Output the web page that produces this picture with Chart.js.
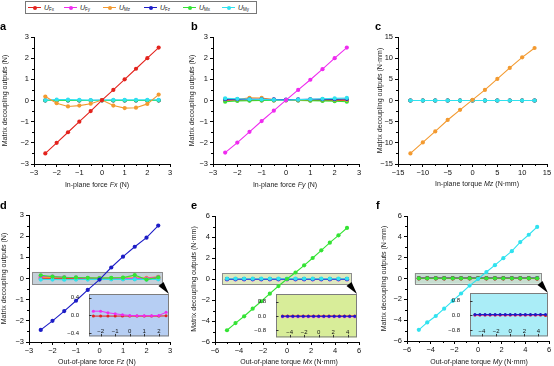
<!DOCTYPE html>
<html>
<head>
<meta charset="utf-8">
<script src="https://cdn.jsdelivr.net/npm/chart.js@4.4.1/dist/chart.umd.min.js"></script>
<style>
    html, body { margin: 0; padding: 0; background: #fff; }
    #wrap { position: relative; width: 554px; height: 366px; overflow: hidden; font-family: "Liberation Sans", Arial, sans-serif; }
    #wrap canvas { position: absolute; }
    #legend { position: absolute; left: 25px; top: 1px; width: 230px; height: 11px; border: 1px solid #777; box-sizing: content-box; }
    .lg-line { position: absolute; top: 5px; width: 13px; height: 1px; }
    .lg-dot { position: absolute; top: 3.5px; width: 4px; height: 4px; border-radius: 50%; }
    .lg-txt { position: absolute; top: 1px; font-size: 7px; line-height: 9px; color: #222; white-space: nowrap; }
    .lg-txt i { font-style: italic; }
    .lg-txt sub { font-size: 4.5px; vertical-align: -1px; }
</style>
</head>
<body>
<div id="wrap"><div id="legend"></div></div>
<script>
// x positions of the applied loads
const X_FORCE = [-2.5, -2, -1.5, -1, -0.5, 0, 0.5, 1, 1.5, 2, 2.5];
const X_TORQUE_Z = [-12.5, -10, -7.5, -5, -2.5, 0, 2.5, 5, 7.5, 10, 12.5];
const X_TORQUE = [-5, -4.29, -3.57, -2.86, -2.14, -1.43, -0.71, 0, 0.71, 1.43, 2.14, 2.86, 3.57, 4.29, 5];

const SERIES_NAMES = ['Fx', 'Fy', 'Mz', 'Fz', 'Mx', 'My'];
const SERIES_COLORS = {Fx: '#e3231d', Fy: '#ef2cef', Mz: '#f39a30', Fz: '#1c1cc6', Mx: '#34e334', My: '#30e2ef'};

// a: in-plane force Fx
const A_FX = [-2.5, -2.0, -1.5, -1.0, -0.5, 0.02, 0.5, 1.0, 1.5, 2.0, 2.5];
const A_FY = [0.01, 0.01, 0, 0, 0, 0, 0, 0, 0, 0, 0.01];
const A_MZ = [0.19, -0.13, -0.28, -0.24, -0.15, 0.02, -0.24, -0.36, -0.34, -0.16, 0.28];
const A_FZ = [0, 0, 0, 0, 0, 0.01, 0, 0, 0, 0, 0];
const A_MX = [0, 0, 0, 0, 0, 0, 0, 0, 0, 0, 0];
const A_MY = [0.02, 0.04, 0.04, 0.03, 0.02, 0.02, 0.03, 0.03, 0.03, 0.03, 0.03];

// b: in-plane force Fy
const B_FX = [0.01, 0.01, 0.01, 0, 0, 0, 0, 0, 0, 0, 0];
const B_FY = [-2.46, -1.99, -1.48, -0.97, -0.48, 0.02, 0.5, 0.98, 1.48, 2.0, 2.5];
const B_MZ = [0.05, 0.05, 0.13, 0.12, 0.04, 0.02, 0.03, 0.05, 0.05, 0.04, 0.03];
const B_FZ = [0.06, 0.06, 0.06, 0.06, 0.05, 0.04, 0.05, 0.06, 0.06, 0.06, 0.07];
const B_MX = [-0.06, -0.02, -0.01, 0, 0, 0.02, 0, -0.01, -0.02, -0.03, -0.06];
const B_MY = [0.1, 0.08, 0.06, 0.05, 0.03, 0.02, 0.04, 0.06, 0.08, 0.1, 0.12];

// c: in-plane torque Mz
const C_FX = [0, 0, 0, 0, 0, 0, 0, 0, 0, 0, 0];
const C_FY = [0, 0, 0, 0, 0, 0, 0, 0, 0, 0, 0];
const C_MZ = [-12.5, -9.9, -7.3, -4.6, -2.2, 0.15, 2.5, 5.1, 7.7, 10.2, 12.4];
const C_FZ = [0, 0, 0, 0, 0, 0, 0, 0, 0, 0, 0];
const C_MX = [0, 0, 0, 0, 0, 0, 0, 0, 0, 0, 0];
const C_MY = [0, 0, 0, 0, 0, 0, 0, 0, 0, 0, 0];

// d: out-of-plane force Fz
const D_FX = [-0.015, -0.015, -0.015, -0.015, -0.015, -0.015, -0.015, -0.015, -0.015, -0.015, -0.01];
const D_FY = [0.095, 0.095, 0.06, 0.037, 0.015, 0, -0.005, -0.005, -0.005, 0, 0.07];
const D_MZ = [0.05, 0.04, 0.03, 0.02, 0.02, 0.02, 0.02, 0.03, 0.03, 0.03, 0.08];
const D_FZ = [-2.43, -2.0, -1.54, -1.05, -0.54, -0.05, 0.52, 1.03, 1.5, 1.93, 2.5];
const D_MX = [0.15, 0.09, 0.06, 0.05, 0.03, 0.02, 0.03, 0.04, 0.16, -0.05, 0.06];
const D_MY = [-0.05, -0.05, -0.06, -0.05, -0.05, -0.04, -0.04, -0.04, -0.04, -0.05, -0.04];

// e: out-of-plane torque Mx
const E_FX = [0, 0, 0, 0, 0, 0, 0, 0, 0, 0, 0, 0, 0, 0, 0];
const E_FY = [-0.04, -0.04, -0.04, -0.04, -0.04, -0.04, -0.04, -0.04, -0.04, -0.04, -0.04, -0.04, -0.04, -0.04, -0.04];
const E_MZ = [0, 0, 0, 0, 0, 0, 0, 0, 0, 0, 0, 0, 0, 0, 0];
const E_FZ = [-0.02, -0.02, -0.02, -0.02, -0.02, -0.02, -0.02, -0.02, -0.02, -0.02, -0.02, -0.02, -0.02, -0.02, -0.02];
const E_MX = [-4.88, -4.2, -3.55, -2.83, -2.12, -1.4, -0.67, 0.0, 0.62, 1.3, 2.0, 2.73, 3.46, 4.16, 4.86];
const E_MY = [0.03, 0.03, 0.03, 0.03, 0.03, 0.03, 0.03, 0.03, 0.03, 0.03, 0.03, 0.03, 0.03, 0.03, 0.03];

// f: out-of-plane torque My
const F_FX = [0.02, 0.02, 0.02, 0.02, 0.02, 0.02, 0.02, 0.02, 0.02, 0.02, 0.02, 0.02, 0.02, 0.02, -0.01];
const F_FY = [0.01, 0.01, 0.01, 0.01, 0.01, 0.01, 0.01, 0.01, 0.01, 0.01, 0.01, 0.01, 0.01, 0.01, 0.01];
const F_MZ = [0, 0, 0, 0, 0, 0, 0, 0, 0, 0, 0, 0, 0, 0, 0];
const F_FZ = [0.04, 0.04, 0.04, 0.04, 0.04, 0.04, 0.04, 0.04, 0.04, 0.04, 0.04, 0.04, 0.04, 0.04, 0.04];
const F_MX = [0.02, 0.02, 0.02, 0.02, 0.02, 0.02, 0.02, 0.02, 0.02, 0.02, 0.02, 0.02, 0.02, 0.02, 0.02];
const F_MY = [-4.93, -4.22, -3.6, -2.9, -2.15, -1.44, -0.68, -0.05, 0.62, 1.28, 1.95, 2.62, 3.5, 4.2, 4.95];

const FONT = '"Liberation Sans", Arial, sans-serif';
const Y_TITLE_N = [['Matrix decoupling outputs (N)', 'n']];
const Y_TITLE_NMM = [['Matrix decoupling outputs (N\u00b7mm)', 'n']];

// series keys are listed top-most first
const panels = [
    {letter: 'a', box: [0, 16, 182, 176], plot: [34, 37, 170, 164], x: X_FORCE, xr: [-3, 3, 1], yr: [-3, 3, 1],
        series: {Fx: A_FX, Mz: A_MZ, My: A_MY, Mx: A_MX, Fz: A_FZ, Fy: A_FY},
        letterPos: [0, 30], yTitleX: 5, yTitle: Y_TITLE_N,
        xTitlePos: [97, 185], xTitle: [['In-plane force ', 'n'], ['Fx', 'i'], [' (N)', 'n']]},
    {letter: 'b', box: [180, 16, 184, 176], plot: [213, 37, 359, 164], x: X_FORCE, xr: [-3, 3, 1], yr: [-3, 3, 1],
        series: {Fy: B_FY, My: B_MY, Fz: B_FZ, Mz: B_MZ, Mx: B_MX, Fx: B_FX},
        letterPos: [191, 30], yTitleX: 192.5, yTitle: Y_TITLE_N,
        xTitlePos: [285, 185], xTitle: [['In-plane force ', 'n'], ['Fy', 'i'], [' (N)', 'n']]},
    {letter: 'c', box: [364, 16, 190, 176], plot: [398, 37, 547, 164], x: X_TORQUE_Z, xr: [-15, 15, 5], yr: [-15, 15, 5],
        series: {Mz: C_MZ, My: C_MY, Mx: C_MX, Fz: C_FZ, Fy: C_FY, Fx: C_FX},
        letterPos: [375, 30], yTitleX: 380, yTitle: Y_TITLE_NMM,
        xTitlePos: [477, 184], xTitle: [['In-plane torque ', 'n'], ['Mz', 'i'], [' (N\u00b7mm)', 'n']]},
    {letter: 'd', box: [0, 190, 182, 176], plot: [29, 215, 170, 342], x: X_FORCE, xr: [-3, 3, 1], yr: [-3, 3, 1],
        series: {Fz: D_FZ, Mx: D_MX, My: D_MY, Fy: D_FY, Fx: D_FX, Mz: D_MZ},
        zoomBox: {x: [-2.87, 2.66], y: [-0.27, 0.31], fill: 'rgba(178,192,204,0.75)'},
        letterPos: [0, 209], yTitleX: 4.5, yTitle: Y_TITLE_N,
        xTitlePos: [97, 362], xTitle: [['Out-of-plane force ', 'n'], ['Fz', 'i'], [' (N)', 'n']],
        inset: {box: [63, 280, 111, 62], plot: [89, 294, 169, 337], xr: [-2.8, 2.7, 1], yr: [-0.47, 0.48, 0.4],
            bg: '#b6cef3', series: {Fy: D_FY, Fx: D_FX}}},
    {letter: 'e', box: [180, 190, 184, 176], plot: [215, 216, 359, 342], x: X_TORQUE, xr: [-6, 6, 2], yr: [-6, 6, 2],
        series: {Mx: E_MX, My: E_MY, Fz: E_FZ, Fy: E_FY, Fx: E_FX, Mz: E_MZ},
        zoomBox: {x: [-5.42, 5.33], y: [-0.48, 0.57], fill: 'rgba(214,228,178,0.8)'},
        letterPos: [191, 209], yTitleX: 194.5, yTitle: Y_TITLE_NMM,
        xTitlePos: [289, 362], xTitle: [['Out-of-plane torque ', 'n'], ['Mx', 'i'], [' (N\u00b7mm)', 'n']],
        inset: {box: [250, 280, 112, 63], plot: [276, 294, 357, 338], xr: [-5.9, 5.3, 2], yr: [-1.2, 1.23, 0.8],
            bg: '#d8ed99', series: {Fz: E_FZ, Fy: E_FY, Fx: E_FX}}},
    {letter: 'f', box: [364, 190, 190, 176], plot: [407, 216, 549, 341], x: X_TORQUE, xr: [-6, 6, 2], yr: [-6, 6, 2],
        series: {My: F_MY, Mx: F_MX, Fx: F_FX, Fz: F_FZ, Fy: F_FY, Mz: F_MZ},
        zoomBox: {x: [-5.35, 5.3], y: [-0.5, 0.51], fill: 'rgba(184,214,196,0.8)'},
        letterPos: [376, 209], yTitleX: 384.5, yTitle: Y_TITLE_NMM,
        xTitlePos: [479, 362], xTitle: [['Out-of-plane torque ', 'n'], ['My', 'i'], [' (N\u00b7mm)', 'n']],
        inset: {box: [444, 279, 110, 63], plot: [470, 293, 548, 337], xr: [-5.7, 5.35, 2], yr: [-1.15, 1.21, 0.8],
            bg: '#aaedf7', series: {Fz: F_FZ, Fx: F_FX, Fy: F_FY}}},
];

Chart.defaults.font.family = FONT;
Chart.defaults.color = '#111';

const wrap = document.getElementById('wrap');

function minusSign(v) {
    return String(v).replace('-', '\u2212');
}

function drawParts(ctx, parts, cx, cy, size) {
    const fonts = parts.map(p => (p[1] === 'i' ? 'italic ' : '') + size + 'px ' + FONT);
    let total = 0;
    const widths = parts.map((p, i) => {
        ctx.font = fonts[i];
        const w = ctx.measureText(p[0]).width;
        total += w;
        return w;
    });
    let xx = cx - total / 2;
    ctx.textAlign = 'left';
    ctx.textBaseline = 'middle';
    parts.forEach((p, i) => {
        ctx.font = fonts[i];
        ctx.fillText(p[0], xx, cy);
        xx += widths[i];
    });
}

function buildDatasets(x, series, radius, width) {
    return Object.keys(series).map(key => ({
        label: 'U' + key,
        data: x.map((xv, i) => ({x: xv, y: series[key][i]})),
        borderColor: SERIES_COLORS[key],
        backgroundColor: SERIES_COLORS[key],
        borderWidth: width,
        pointRadius: radius,
        pointBorderWidth: 0,
        pointHoverRadius: 0,
        tension: 0,
    }));
}

function makeCanvas(box) {
    const cv = document.createElement('canvas');
    cv.width = box[2];
    cv.height = box[3];
    cv.style.left = box[0] + 'px';
    cv.style.top = box[1] + 'px';
    cv.style.width = box[2] + 'px';
    cv.style.height = box[3] + 'px';
    wrap.appendChild(cv);
    return cv;
}

function mainDeco(p) {
    return {
        id: 'mainDeco' + p.letter,
        beforeDatasetsDraw(chart) {
            if (!p.zoomBox) return;
            const {ctx, scales: {x, y}} = chart;
            const l = x.getPixelForValue(p.zoomBox.x[0]);
            const r = x.getPixelForValue(p.zoomBox.x[1]);
            const t = y.getPixelForValue(p.zoomBox.y[1]);
            const b = y.getPixelForValue(p.zoomBox.y[0]);
            ctx.save();
            ctx.fillStyle = p.zoomBox.fill;
            ctx.fillRect(l, t, r - l, b - t);
            ctx.strokeStyle = '#8d8d8d';
            ctx.lineWidth = 1;
            ctx.strokeRect(Math.round(l) + 0.5, Math.round(t) + 0.5, Math.round(r - l), Math.round(b - t));
            ctx.restore();
        },
        afterDraw(chart) {
            const {ctx, chartArea, scales: {x, y}} = chart;
            const ox = p.box[0], oy = p.box[1];
            ctx.save();
            // minor ticks
            ctx.strokeStyle = '#000';
            ctx.lineWidth = 1;
            ctx.beginPath();
            for (let i = 0; i < x.ticks.length - 1; i++) {
                const px = Math.round(x.getPixelForValue((x.ticks[i].value + x.ticks[i + 1].value) / 2)) + 0.5;
                ctx.moveTo(px, chartArea.bottom);
                ctx.lineTo(px, chartArea.bottom + 2);
            }
            for (let i = 0; i < y.ticks.length - 1; i++) {
                const py = Math.round(y.getPixelForValue((y.ticks[i].value + y.ticks[i + 1].value) / 2)) + 0.5;
                ctx.moveTo(chartArea.left, py);
                ctx.lineTo(chartArea.left - 2, py);
            }
            ctx.stroke();

            ctx.fillStyle = '#222';
            drawParts(ctx, p.xTitle, p.xTitlePos[0] - ox, p.xTitlePos[1] - oy, 7);

            ctx.save();
            ctx.translate(p.yTitleX - ox, (chartArea.top + chartArea.bottom) / 2);
            ctx.rotate(-Math.PI / 2);
            drawParts(ctx, p.yTitle, 0, 0, 7);
            ctx.restore();

            ctx.fillStyle = '#000';
            ctx.font = 'bold 11px ' + FONT;
            ctx.textAlign = 'left';
            ctx.textBaseline = 'alphabetic';
            ctx.fillText(p.letter, p.letterPos[0] - ox, p.letterPos[1] - oy);
            ctx.restore();
        }
    };
}

function insetDeco(p) {
    const s = p.inset;
    return {
        id: 'insetDeco' + p.letter,
        beforeDraw(chart) {
            const {ctx, chartArea: a} = chart;
            ctx.save();
            ctx.fillStyle = s.bg;
            ctx.fillRect(a.left, a.top, a.right - a.left, a.bottom - a.top);
            ctx.restore();
        },
        afterDraw(chart) {
            const {ctx, chartArea: a, scales: {x, y}} = chart;
            ctx.save();
            ctx.strokeStyle = '#7d7d7d';
            ctx.lineWidth = 1;
            ctx.strokeRect(a.left + 0.5, a.top + 0.5, a.right - a.left - 1, a.bottom - a.top - 1);
            ctx.strokeStyle = '#333';
            ctx.beginPath();
            x.ticks.forEach(t => {
                const px = Math.round(x.getPixelForValue(t.value)) + 0.5;
                ctx.moveTo(px, a.bottom);
                ctx.lineTo(px, a.bottom - 2.5);
            });
            y.ticks.forEach(t => {
                const py = Math.round(y.getPixelForValue(t.value)) + 0.5;
                ctx.moveTo(a.left, py);
                ctx.lineTo(a.left + 2.5, py);
            });
            ctx.stroke();
            // pointer from the zoom box to the inset
            const tipX = a.right, tipY = a.top;
            const dx = -8, dy = -10, len = Math.hypot(dx, dy);
            const nx = -dy / len * 3.2, ny = dx / len * 3.2;
            ctx.fillStyle = '#000';
            ctx.beginPath();
            ctx.moveTo(tipX, tipY);
            ctx.lineTo(tipX + dx + nx, tipY + dy + ny);
            ctx.lineTo(tipX + dx - nx, tipY + dy - ny);
            ctx.closePath();
            ctx.fill();
            ctx.restore();
        }
    };
}

function mainChart(p) {
    const cv = makeCanvas(p.box);
    return new Chart(cv, {
        type: 'line',
        data: {datasets: buildDatasets(p.x, p.series, 2.1, 1.1)},
        options: {
            responsive: false,
            animation: false,
            devicePixelRatio: 1,
            layout: {padding: {left: 0, top: p.plot[1] - p.box[1], right: p.box[0] + p.box[2] - p.plot[2], bottom: 0}},
            plugins: {legend: {display: false}, tooltip: {enabled: false}},
            scales: {
                x: {
                    type: 'linear', min: p.xr[0], max: p.xr[1],
                    ticks: {stepSize: p.xr[2], autoSkip: false, maxRotation: 0, padding: 1, font: {size: 7.5}, callback: minusSign},
                    grid: {display: true, drawOnChartArea: false, drawTicks: true, tickLength: 3, color: '#000'},
                    border: {display: true, color: '#000', width: 1},
                    afterFit: sc => { sc.height = p.box[1] + p.box[3] - p.plot[3]; },
                },
                y: {
                    type: 'linear', min: p.yr[0], max: p.yr[1],
                    ticks: {stepSize: p.yr[2], autoSkip: false, padding: 2, font: {size: 7.5}, callback: minusSign},
                    grid: {display: true, drawOnChartArea: false, drawTicks: true, tickLength: 3, color: '#000'},
                    border: {display: true, color: '#000', width: 1},
                    afterFit: sc => { sc.width = p.plot[0] - p.box[0]; },
                },
            },
        },
        plugins: [mainDeco(p)],
    });
}

function insetChart(p) {
    const s = p.inset;
    const cv = makeCanvas(s.box);
    return new Chart(cv, {
        type: 'line',
        data: {datasets: buildDatasets(p.x, s.series, 1.5, 1)},
        options: {
            responsive: false,
            animation: false,
            devicePixelRatio: 1,
            layout: {padding: {left: 0, top: s.plot[1] - s.box[1], right: s.box[0] + s.box[2] - s.plot[2], bottom: 0}},
            plugins: {legend: {display: false}, tooltip: {enabled: false}},
            scales: {
                x: {
                    type: 'linear', min: s.xr[0], max: s.xr[1],
                    ticks: {stepSize: s.xr[2], includeBounds: false, autoSkip: false, maxRotation: 0, mirror: true, padding: 1,
                        font: {size: 6}, callback: minusSign},
                    grid: {display: false},
                    border: {display: false},
                    afterFit: sc => { sc.height = s.box[1] + s.box[3] - s.plot[3]; },
                },
                y: {
                    type: 'linear', min: s.yr[0], max: s.yr[1],
                    ticks: {stepSize: s.yr[2], includeBounds: false, autoSkip: false, padding: 2, font: {size: 6},
                        callback: v => minusSign(Number(v).toFixed(1))},
                    grid: {display: false},
                    border: {display: false},
                    afterFit: sc => { sc.width = s.plot[0] - s.box[0]; },
                },
            },
        },
        plugins: [insetDeco(p)],
    });
}

function buildLegend() {
    const legend = document.getElementById('legend');
    const starts = [2, 38, 77, 118, 157, 196];
    SERIES_NAMES.forEach((name, i) => {
        const color = SERIES_COLORS[name];
        const line = document.createElement('div');
        line.className = 'lg-line';
        line.style.left = starts[i] + 'px';
        line.style.background = color;
        const dot = document.createElement('div');
        dot.className = 'lg-dot';
        dot.style.left = (starts[i] + 4.5) + 'px';
        dot.style.background = color;
        const txt = document.createElement('div');
        txt.className = 'lg-txt';
        txt.style.left = (starts[i] + 16) + 'px';
        txt.innerHTML = '<i>U</i><sub>' + name + '</sub>';
        legend.appendChild(line);
        legend.appendChild(dot);
        legend.appendChild(txt);
    });
}

buildLegend();
panels.forEach(p => {
    mainChart(p);
    if (p.inset) insetChart(p);
});
</script>
</body>
</html>
